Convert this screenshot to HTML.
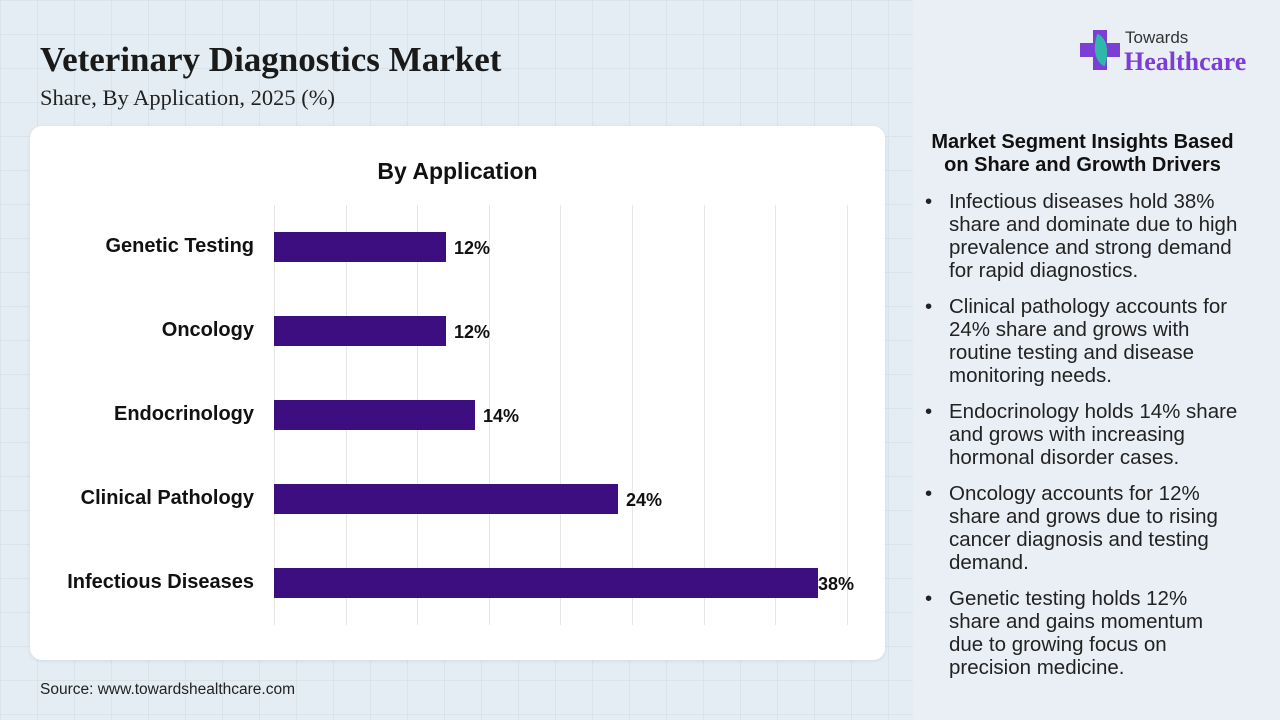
<!DOCTYPE html>
<html><head><style>
body{margin:0;width:1280px;height:720px;overflow:hidden;font-family:"Liberation Sans",sans-serif;position:relative;
background-color:#e3edf3;
background-image:linear-gradient(#d8e3ea 1px,transparent 1px),linear-gradient(90deg,#d8e3ea 1px,transparent 1px);background-size:37px 34px;}
.right{position:absolute;left:913px;top:0;width:367px;height:720px;background:#eaeff5;}
h1{position:absolute;left:40px;top:40px;margin:0;font-family:"Liberation Serif",serif;font-size:35px;font-weight:bold;color:#1a1a1a;white-space:nowrap}
.sub{position:absolute;left:40px;top:85px;font-family:"Liberation Serif",serif;font-size:22.5px;color:#222;white-space:nowrap}
.card{position:absolute;left:30px;top:126px;width:855px;height:534px;background:#fff;border-radius:12px;box-shadow:0 1px 4px rgba(0,0,0,.08)}
.ct{position:absolute;left:0;width:915px;top:158px;text-align:center;font-size:23px;font-weight:bold;color:#111}
.lab{position:absolute;right:1026px;font-size:20px;font-weight:bold;color:#111;white-space:nowrap}
.bar{position:absolute;left:274px;height:30px;background:#3c0e80}
.v{position:absolute;font-size:18px;font-weight:bold;color:#111}
.g{position:absolute;top:205px;height:420px;width:1px;background:#e6e6e6}
.src{position:absolute;left:40px;top:681px;font-size:15.5px;color:#222}
.ins{position:absolute;left:915px;width:335px;top:131px;text-align:center;font-size:20px;font-weight:bold;color:#111;line-height:23px}
ul{position:absolute;left:925px;top:190px;width:315px;margin:0;padding:0;list-style:none;font-size:20.5px;color:#222;line-height:23px}
li{position:relative;padding-left:24px;margin-bottom:13px}
li:before{content:"•";position:absolute;left:0}
</style></head><body>
<div class="right"></div>
<h1>Veterinary Diagnostics Market</h1>
<div class="sub">Share, By Application, 2025 (%)</div>
<div style="position:absolute;left:1080px;top:30px;width:40px;height:40px">
<div style="position:absolute;left:13px;top:0;width:14px;height:40px;background:#7b3fd6"></div>
<div style="position:absolute;left:0;top:13px;width:40px;height:14px;background:#7b3fd6"></div>
<div style="position:absolute;left:12px;top:6px;width:18px;height:28px;background:#2fb8a8;border-radius:0 100% 0 100%;transform:rotate(20deg)"></div></div>
<div style="position:absolute;left:1125px;top:28px;font-size:17px;color:#333">Towards</div>
<div style="position:absolute;left:1124px;top:47px;font-family:'Liberation Serif',serif;font-size:26px;font-weight:bold;color:#7b3fd6">Healthcare</div>
<div class="card"></div>
<div class="ct">By Application</div>
<div class="g" style="left:274px"></div><div class="g" style="left:346px"></div><div class="g" style="left:417px"></div><div class="g" style="left:489px"></div><div class="g" style="left:560px"></div><div class="g" style="left:632px"></div><div class="g" style="left:704px"></div><div class="g" style="left:775px"></div><div class="g" style="left:847px"></div>
<div class="lab" style="top:235px">Genetic Testing</div><div class="bar" style="top:232px;width:172px"></div><div class="v" style="left:454px;top:238px">12%</div>
<div class="lab" style="top:319px">Oncology</div><div class="bar" style="top:316px;width:172px"></div><div class="v" style="left:454px;top:322px">12%</div>
<div class="lab" style="top:403px">Endocrinology</div><div class="bar" style="top:400px;width:201px"></div><div class="v" style="left:483px;top:406px">14%</div>
<div class="lab" style="top:487px">Clinical Pathology</div><div class="bar" style="top:484px;width:344px"></div><div class="v" style="left:626px;top:490px">24%</div>
<div class="lab" style="top:571px">Infectious Diseases</div><div class="bar" style="top:568px;width:544px"></div><div class="v" style="left:818px;top:574px">38%</div>
<div class="src">Source: www.towardshealthcare.com</div>
<div class="ins">Market Segment Insights Based<br>on Share and Growth Drivers</div>
<ul>
<li>Infectious diseases hold 38% share and dominate due to high prevalence and strong demand for rapid diagnostics.</li>
<li>Clinical pathology accounts for 24% share and grows with routine testing and disease monitoring needs.</li>
<li>Endocrinology holds 14% share and grows with increasing hormonal disorder cases.</li>
<li>Oncology accounts for 12% share and grows due to rising cancer diagnosis and testing demand.</li>
<li>Genetic testing holds 12% share and gains momentum due to growing focus on precision medicine.</li>
</ul>
</body></html>
